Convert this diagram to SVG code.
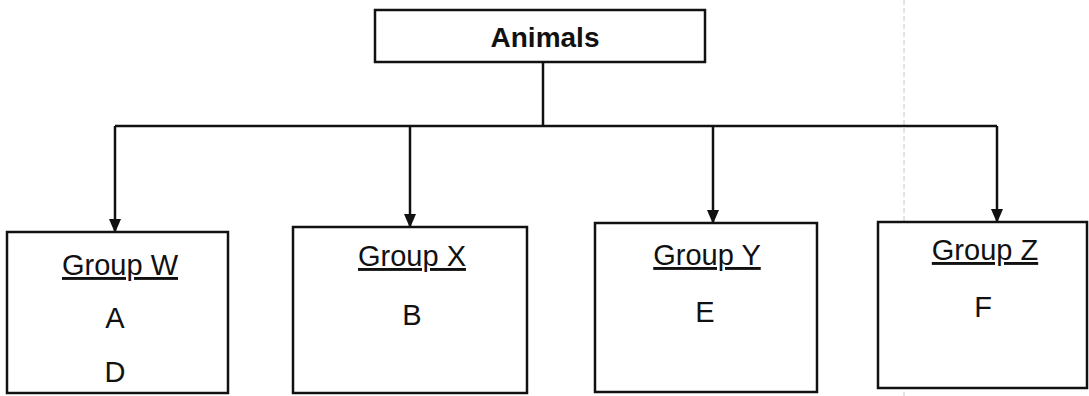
<svg xmlns="http://www.w3.org/2000/svg" width="1089" height="396" viewBox="0 0 1089 396">
<defs>
<marker id="arr" markerWidth="14" markerHeight="12" refX="13" refY="6" orient="auto" markerUnits="userSpaceOnUse" viewBox="0 0 14 12">
<path d="M0,0 L14,6 L0,12 Z" fill="#111"/>
</marker>
</defs>
<style>
.box{fill:#fff;stroke:#111;stroke-width:2.5}
.t{font-family:"Liberation Sans",Arial,sans-serif;font-size:29px;fill:#111;text-anchor:middle}
.b{font-weight:bold;font-size:28px}
.u{text-decoration:underline}
.c{fill:none;stroke:#111;stroke-width:2.5}
.fold{stroke:#c8c8c8;stroke-width:1;stroke-dasharray:5 3}
</style>
<rect width="1089" height="396" fill="#fff"/>
<line class="fold" x1="904" y1="0" x2="904" y2="396"/>
<g id="connectors">
<path class="c" d="M543,62 V126"/>
<path class="c" d="M115,126 H997"/>
<path class="c" d="M115,126 V232" marker-end="url(#arr)"/>
<path class="c" d="M410,126 V227" marker-end="url(#arr)"/>
<path class="c" d="M713,126 V223" marker-end="url(#arr)"/>
<path class="c" d="M997,126 V222" marker-end="url(#arr)"/>
</g>
<g id="animals">
<rect class="box" x="375" y="10" width="330" height="52"/>
<text class="t b" x="545" y="47">Animals</text>
</g>
<g id="groupW">
<rect class="box" x="7" y="232" width="221" height="161"/>
<text class="t u" x="120" y="275">Group W</text>
<text class="t" x="115" y="328">A</text>
<text class="t" x="115" y="382">D</text>
</g>
<g id="groupX">
<rect class="box" x="293" y="227" width="234" height="166"/>
<text class="t u" x="412" y="266">Group X</text>
<text class="t" x="412" y="325">B</text>
</g>
<g id="groupY">
<rect class="box" x="595" y="223" width="222" height="169"/>
<text class="t u" x="707" y="265">Group Y</text>
<text class="t" x="705" y="322">E</text>
</g>
<g id="groupZ">
<rect class="box" x="878" y="222" width="209" height="166"/>
<text class="t u" x="985" y="260">Group Z</text>
<text class="t" x="983" y="317">F</text>
</g>
</svg>
